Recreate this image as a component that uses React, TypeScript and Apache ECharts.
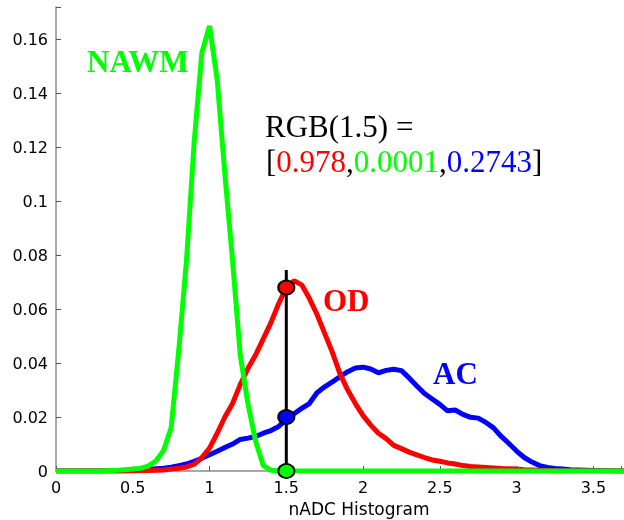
import React, { useEffect, useRef } from "react";
import * as echarts from "echarts";

const xs = [
  0, 0.05, 0.1, 0.15, 0.2, 0.25, 0.3, 0.35, 0.4, 0.45,
  0.5, 0.55, 0.6, 0.65, 0.7, 0.75, 0.8, 0.85, 0.9, 0.95,
  1.0, 1.05, 1.1, 1.15, 1.2, 1.25, 1.3, 1.35, 1.4, 1.45,
  1.5, 1.55, 1.6, 1.65, 1.7, 1.75, 1.8, 1.85, 1.9, 1.95,
  2.0, 2.05, 2.1, 2.15, 2.2, 2.25, 2.3, 2.35, 2.4, 2.45,
  2.5, 2.55, 2.6, 2.65, 2.7, 2.75, 2.8, 2.85, 2.9, 2.95,
  3.0, 3.05, 3.1, 3.15, 3.2, 3.25, 3.3, 3.35, 3.4, 3.45,
  3.5, 3.55, 3.6, 3.65, 3.7,
];

const nawm = [
  0, 0, 0, 0, 0, 0, 0, 0.0002, 0.0003, 0.0005,
  0.0007, 0.001, 0.0018, 0.0037, 0.0075, 0.016, 0.045, 0.078, 0.122, 0.155,
  0.165, 0.145, 0.11, 0.078, 0.043, 0.025, 0.011, 0.002, 0.0003, 0,
  0, 0, 0, 0, 0, 0, 0, 0, 0, 0,
  0, 0, 0, 0, 0, 0, 0, 0, 0, 0,
  0, 0, 0, 0, 0, 0, 0, 0, 0, 0,
  0, 0, 0, 0, 0, 0, 0, 0, 0, 0,
  0, 0, 0, 0, 0,
];

const od = [
  0, 0, 0, 0, 0, 0, 0, 0, 0, 0,
  0, 0.0001, 0.0002, 0.0003, 0.0004, 0.0007, 0.001, 0.0015, 0.0025, 0.005,
  0.0085, 0.014, 0.02, 0.025, 0.032, 0.038, 0.043, 0.049, 0.055, 0.062,
  0.068, 0.0705, 0.069, 0.064, 0.058, 0.051, 0.044, 0.036, 0.03, 0.025,
  0.0205, 0.017, 0.014, 0.012, 0.0095, 0.0083, 0.007, 0.006, 0.005, 0.0041,
  0.0036, 0.003, 0.0026, 0.002, 0.0017, 0.0015, 0.0013, 0.0011, 0.0009, 0.0008,
  0.0007, 0.0005, 0.0004, 0.0003, 0.0002, 0.0001, 0, 0, 0, 0,
  0, 0, 0, 0, 0,
];

const ac = [
  0, 0, 0, 0, 0, 0, 0, 0, 0, 0,
  0.0002, 0.0004, 0.0006, 0.0008, 0.001, 0.0014, 0.002, 0.0026, 0.0036, 0.0047,
  0.006, 0.0073, 0.0087, 0.01, 0.0117, 0.0122, 0.0128, 0.014, 0.015, 0.0165,
  0.019, 0.0212, 0.0232, 0.025, 0.029, 0.0312, 0.033, 0.035, 0.0368, 0.0382,
  0.0385, 0.0378, 0.0364, 0.0373, 0.0377, 0.0372, 0.0345, 0.0315, 0.0287, 0.0267,
  0.0247, 0.0223, 0.0226, 0.021, 0.0199, 0.0196, 0.018, 0.016, 0.0128, 0.0102,
  0.0074, 0.005, 0.0033, 0.002, 0.0013, 0.0009, 0.0007, 0.0005, 0.0004, 0.0003,
  0.0002, 0.0001, 0.0001, 0, 0,
];

const markerX = 1.5;
const markerTop = 0.0745;
const markerValues = [0.068, 0.02, 0];
const markerColors = ["#ff0000", "#0000ff", "#00ff00"];

const RED = "#ff0000";
const GREEN = "#00ff00";
const BLUE = "#0000ff";

export default function App() {
  const ref = useRef<HTMLDivElement>(null);

  useEffect(() => {
    if (!ref.current) return;
    const chart = echarts.init(ref.current, undefined, { renderer: "svg" });
    const pair = (vals: number[]) => xs.map((x, i) => [x, vals[i]]);
    const labelFmt = (v: number, step: number) => {
      const k = v / step;
      if (Math.abs(k - Math.round(k)) > 1e-6) return "";
      return String(parseFloat(v.toFixed(3)));
    };
    const serif = "'Liberation Serif', 'Times New Roman', serif";
    chart.setOption({
      animation: false,
      grid: { left: 56, right: 0, top: 7, bottom: 49, containLabel: false },
      xAxis: {
        type: "value",
        min: 0,
        max: 3.68,
        interval: 0.5,
        splitLine: { show: false },
        axisLine: { lineStyle: { color: "#8c8c8c", width: 1.5 } },
        axisTick: { inside: true, length: 5, lineStyle: { color: "#555" } },
        axisLabel: {
          color: "#000",
          fontSize: 16,
          fontFamily: "'DejaVu Sans', sans-serif",
          margin: 8,
          formatter: (v: number) => labelFmt(v, 0.5),
        },
      },
      yAxis: {
        type: "value",
        min: 0,
        max: 0.172,
        interval: 0.02,
        splitLine: { show: false },
        axisLine: { show: true, lineStyle: { color: "#8c8c8c", width: 1.5 } },
        axisTick: { show: true, inside: true, length: 5, lineStyle: { color: "#555" } },
        axisLabel: {
          color: "#000",
          fontSize: 16,
          fontFamily: "'DejaVu Sans', sans-serif",
          margin: 8,
          formatter: (v: number) => labelFmt(v, 0.02),
        },
      },
      graphic: [
        {
          type: "text",
          left: 87,
          top: 46,
          style: { text: "NAWM", fill: GREEN, font: `bold 31px ${serif}` },
        },
        {
          type: "text",
          left: 323,
          top: 285,
          style: { text: "OD", fill: RED, font: `bold 31px ${serif}` },
        },
        {
          type: "text",
          left: 433,
          top: 358,
          style: { text: "AC", fill: BLUE, font: `bold 31px ${serif}` },
        },
        {
          type: "text",
          left: 265,
          top: 111,
          style: { text: "RGB(1.5) =", fill: "#000", font: `31px ${serif}` },
        },
        {
          type: "text",
          left: 266,
          top: 146,
          style: {
            text: "{k|[}{r|0.978}{k|,}{g|0.0001}{k|,}{b|0.2743}{k|]}",
            font: `31px ${serif}`,
            rich: {
              k: { fill: "#000", fontSize: 31, fontFamily: serif },
              r: { fill: RED, fontSize: 31, fontFamily: serif },
              g: { fill: GREEN, fontSize: 31, fontFamily: serif },
              b: { fill: BLUE, fontSize: 31, fontFamily: serif },
            },
          },
        },
        {
          type: "text",
          x: 359,
          y: 509,
          style: {
            text: "nADC Histogram",
            fill: "#000",
            font: "17px 'DejaVu Sans', sans-serif",
            textAlign: "center",
            textVerticalAlign: "middle",
          },
        },
      ],
      series: [
        {
          type: "line",
          data: pair(ac),
          showSymbol: false,
          lineStyle: { color: BLUE, width: 5 },
          z: 2,
        },
        {
          type: "line",
          data: pair(od),
          showSymbol: false,
          lineStyle: { color: RED, width: 5 },
          z: 3,
        },
        {
          type: "line",
          data: pair(nawm),
          showSymbol: false,
          lineStyle: { color: GREEN, width: 5 },
          z: 4,
        },
        {
          type: "line",
          data: [
            [markerX, 0],
            [markerX, markerTop],
          ],
          showSymbol: false,
          lineStyle: { color: "#000", width: 3 },
          z: 5,
        },
        {
          type: "scatter",
          data: markerValues.map((v, i) => ({
            value: [markerX, v],
            itemStyle: { color: markerColors[i], opacity: 1 },
          })),
          symbol: "circle",
          symbolSize: [16, 14],
          itemStyle: { borderColor: "#000", borderWidth: 2, opacity: 1 },
          z: 6,
        },
      ],
    });
    return () => chart.dispose();
  }, []);

  return (
    <div
      ref={ref}
      style={{ position: "fixed", left: 0, top: 0, width: 624, height: 520 }}
    />
  );
}
